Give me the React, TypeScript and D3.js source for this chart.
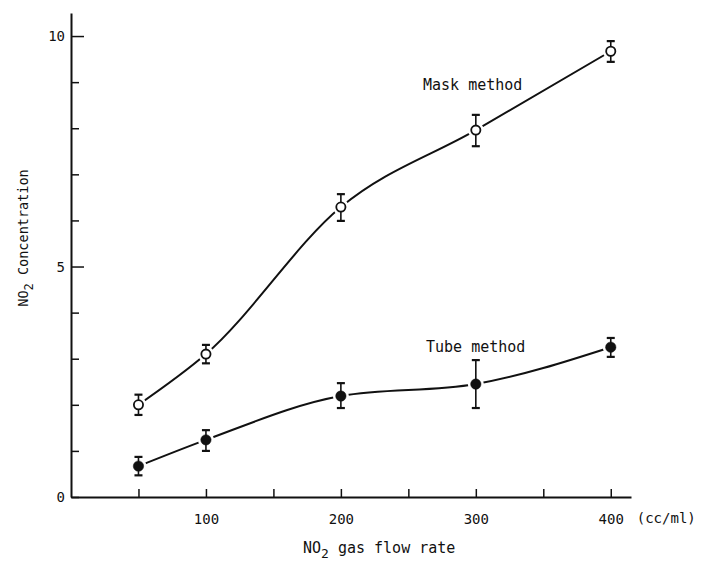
import { useEffect, useRef } from "react";
import * as d3 from "d3";

// flow rate (cc/ml)
const flowRates = [50, 100, 200, 300, 400];
// mask method (open circles)
const maskValues = [2.0, 3.1, 6.29, 7.96, 9.67];
const maskUpper = [2.22, 3.3, 6.57, 8.29, 9.89];
const maskLower = [1.78, 2.9, 5.99, 7.61, 9.44];
// tube method (filled circles)
const tubeValues = [0.67, 1.24, 2.19, 2.45, 3.25];
const tubeUpper = [0.87, 1.45, 2.47, 2.97, 3.45];
const tubeLower = [0.47, 1.0, 1.93, 1.93, 3.04];

const xTickValues = [50, 100, 150, 200, 250, 300, 350, 400];
const xTickLabels = [100, 200, 300, 400];
const yTickValues = [0, 1, 2, 3, 4, 5, 6, 7, 8, 9, 10];
const yTickLabels = [0, 5, 10];

const FONT = "'DejaVu Sans Mono', monospace";

const App = () => {
  const svgRef = useRef<SVGSVGElement>(null);

  useEffect(() => {
    const svg = d3.select(svgRef.current);
    svg.selectAll("*").remove();

    const x = d3.scaleLinear().domain([0, 415]).range([71, 631]);
    const y = d3.scaleLinear().domain([0, 10.5]).range([497, 13]);

    // x axis
    const xAxis = d3.axisBottom(x)
      .tickValues(xTickValues)
      .tickSizeInner(-8)
      .tickSizeOuter(0)
      .tickPadding(17)
      .tickFormat((d) => (xTickLabels.includes(d as number) ? String(d) : ""));
    const gx = svg.append("g").attr("transform", `translate(0,${y(0)})`).call(xAxis);
    gx.select(".domain").attr("stroke", "#111").attr("stroke-width", 2);
    gx.selectAll(".tick line").attr("stroke", "#111").attr("stroke-width", 1.5);
    gx.selectAll(".tick text").attr("font-family", FONT).attr("font-size", 14).attr("fill", "#111");

    // y axis
    const yAxis = d3.axisLeft(y)
      .tickValues(yTickValues)
      .tickSizeInner(-8)
      .tickSizeOuter(0)
      .tickPadding(6)
      .tickFormat((d) => (yTickLabels.includes(d as number) ? String(d) : ""));
    const gy = svg.append("g").attr("transform", `translate(${x(0)},0)`).call(yAxis);
    gy.select(".domain").attr("stroke", "#111").attr("stroke-width", 2);
    gy.selectAll(".tick line")
      .attr("stroke", "#111")
      .attr("stroke-width", 1.5)
      .attr("x2", (d) => (yTickLabels.includes(d as number) && d !== 0 ? 13 : 8));
    gy.selectAll(".tick text").attr("font-family", FONT).attr("font-size", 14).attr("fill", "#111");

    // unit after 400
    svg.append("text")
      .attr("x", x(400) + 26)
      .attr("y", y(0) + 26)
      .attr("font-family", FONT)
      .attr("font-size", 14)
      .attr("fill", "#111")
      .text("(cc/ml)");

    // axis titles
    const xt = svg.append("text")
      .attr("x", 303)
      .attr("y", 553)
      .attr("font-family", FONT)
      .attr("font-size", 15)
      .attr("fill", "#111");
    xt.append("tspan").text("NO");
    xt.append("tspan").attr("dy", 5).attr("font-size", 13).text("2");
    xt.append("tspan").attr("dy", -5).text(" gas flow rate");

    const yt = svg.append("text")
      .attr("transform", "translate(28,238) rotate(-90)")
      .attr("text-anchor", "middle")
      .attr("font-family", FONT)
      .attr("font-size", 13.5)
      .attr("fill", "#111");
    yt.append("tspan").text("NO");
    yt.append("tspan").attr("dy", 5).attr("font-size", 12).text("2");
    yt.append("tspan").attr("dy", -5).text(" Concentration");

    const line = d3.line<number>()
      .x((d, i) => x(flowRates[i]))
      .y((d) => y(d))
      .curve(d3.curveMonotoneX);

    const series = [
      { values: maskValues, upper: maskUpper, lower: maskLower, filled: false },
      { values: tubeValues, upper: tubeUpper, lower: tubeLower, filled: true },
    ];

    series.forEach((s) => {
      const g = svg.append("g");
      g.append("path")
        .attr("d", line(s.values))
        .attr("fill", "none")
        .attr("stroke", "#111")
        .attr("stroke-width", 2);

      // white gap round markers
      g.selectAll(".halo")
        .data(s.values)
        .join("circle")
        .attr("cx", (d, i) => x(flowRates[i]))
        .attr("cy", (d) => y(d))
        .attr("r", 8)
        .attr("fill", "#fff");

      const bars = g.selectAll(".err").data(s.values).join("g");
      bars.append("line")
        .attr("x1", (d, i) => x(flowRates[i]))
        .attr("x2", (d, i) => x(flowRates[i]))
        .attr("y1", (d, i) => y(s.upper[i]))
        .attr("y2", (d, i) => y(s.lower[i]))
        .attr("stroke", "#111")
        .attr("stroke-width", 1.6);
      [s.upper, s.lower].forEach((arr) => {
        bars.append("line")
          .attr("x1", (d, i) => x(flowRates[i]) - 4)
          .attr("x2", (d, i) => x(flowRates[i]) + 4)
          .attr("y1", (d, i) => y(arr[i]))
          .attr("y2", (d, i) => y(arr[i]))
          .attr("stroke", "#111")
          .attr("stroke-width", 2.2);
      });

      g.selectAll(".pt")
        .data(s.values)
        .join("circle")
        .attr("cx", (d, i) => x(flowRates[i]))
        .attr("cy", (d) => y(d))
        .attr("r", s.filled ? 5.2 : 4.6)
        .attr("fill", s.filled ? "#111" : "#fff")
        .attr("stroke", "#111")
        .attr("stroke-width", s.filled ? 0.5 : 1.8);
    });

    // series labels
    svg.append("text")
      .attr("x", 423)
      .attr("y", 90)
      .attr("font-family", FONT)
      .attr("font-size", 15)
      .attr("fill", "#111")
      .text("Mask method");
    svg.append("text")
      .attr("x", 426)
      .attr("y", 352)
      .attr("font-family", FONT)
      .attr("font-size", 15)
      .attr("fill", "#111")
      .text("Tube method");

    return () => {
      svg.selectAll("*").remove();
    };
  }, []);

  return (
    <svg
      ref={svgRef}
      width={712}
      height={568}
      style={{ position: "absolute", left: 0, top: 0, background: "#fff" }}
    ></svg>
  );
};

export default App;
